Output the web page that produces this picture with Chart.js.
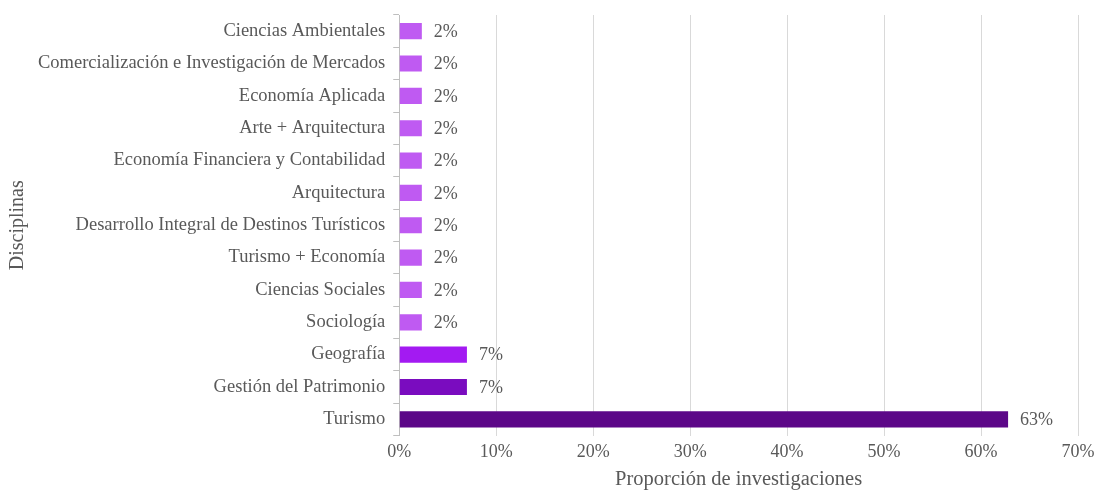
<!DOCTYPE html>
<html>
<head>
<meta charset="utf-8">
<script src="https://cdn.jsdelivr.net/npm/chart.js@4.4.1/dist/chart.umd.min.js"></script>
<style>
	html, body { margin: 0; padding: 0; background: #fff; }
	#wrap { width: 1098px; height: 490px; }
</style>
</head>
<body>
<div id="wrap"><canvas id="chart"></canvas></div>
<script>
(function () {
	'use strict';

	// disciplinas (de arriba hacia abajo)
	var disciplinas = [
		'Ciencias Ambientales',
		'Comercialización e Investigación de Mercados',
		'Economía Aplicada',
		'Arte + Arquitectura',
		'Economía Financiera y Contabilidad',
		'Arquitectura',
		'Desarrollo Integral de Destinos Turísticos',
		'Turismo + Economía',
		'Ciencias Sociales',
		'Sociología',
		'Geografía',
		'Gestión del Patrimonio',
		'Turismo'
	];
	// proporción de investigaciones (%)
	var proporcion = [2.33, 2.33, 2.33, 2.33, 2.33, 2.33, 2.33, 2.33, 2.33, 2.33, 6.98, 6.98, 62.79];
	var etiquetas = ['2%', '2%', '2%', '2%', '2%', '2%', '2%', '2%', '2%', '2%', '7%', '7%', '63%'];
	var colores = ['#bf5af2', '#bf5af2', '#bf5af2', '#bf5af2', '#bf5af2', '#bf5af2', '#bf5af2',
		'#bf5af2', '#bf5af2', '#bf5af2', '#a31af2', '#7a0cbf', '#5c0788'];
	var xTicks = [0, 10, 20, 30, 40, 50, 60, 70];

	var font = '"Liberation Serif", "Times New Roman", serif';
	var gris = '#595959';

	// etiquetas de valor al final de cada barra
	var valueLabels = {
		id: 'valueLabels',
		afterDatasetsDraw: function (chart) {
			var ctx = chart.ctx;
			var meta = chart.getDatasetMeta(0);
			ctx.save();
			ctx.font = '18px ' + font;
			ctx.fillStyle = gris;
			ctx.textAlign = 'left';
			ctx.textBaseline = 'middle';
			meta.data.forEach(function (bar, i) {
				ctx.fillText(etiquetas[i], bar.x + 12, bar.y + 1);
			});
			ctx.restore();
		}
	};

	new Chart(document.getElementById('chart'), {
		type: 'bar',
		data: {
			labels: disciplinas,
			datasets: [{
				data: proporcion,
				backgroundColor: colores,
				borderWidth: 0,
				barPercentage: 0.5,
				categoryPercentage: 1
			}]
		},
		plugins: [valueLabels],
		options: {
			indexAxis: 'y',
			responsive: true,
			maintainAspectRatio: false,
			animation: false,
			layout: { padding: { top: 15, right: 20, bottom: 0, left: 0 } },
			plugins: {
				legend: { display: false },
				tooltip: { enabled: false }
			},
			scales: {
				x: {
					min: 0,
					max: 70,
					afterBuildTicks: function (axis) {
						axis.ticks = xTicks.map(function (v) { return { value: v }; });
					},
					afterFit: function (axis) {
						axis.paddingLeft = 0;
						axis.paddingRight = 0;
					},
					border: { display: false },
					grid: { color: '#d9d9d9', lineWidth: 1, drawTicks: false },
					ticks: {
						color: gris,
						padding: 8,
						font: { family: font, size: 18, lineHeight: 1 },
						callback: function (v) { return v + '%'; }
					},
					title: {
						display: true,
						text: 'Proporción de investigaciones',
						color: gris,
						font: { family: font, size: 20.5, lineHeight: 1 },
						padding: { top: 0, bottom: 0 }
					}
				},
				y: {
					afterFit: function (axis) {
						axis.paddingTop = 0;
						axis.paddingBottom = 0;
					},
					border: { display: true, color: '#bfbfbf', width: 1 },
					grid: { drawOnChartArea: false, drawTicks: true, tickLength: 6, color: '#bfbfbf' },
					ticks: {
						color: gris,
						padding: 8,
						autoSkip: false,
						font: { family: font, size: 18.5 }
					},
					title: {
						display: true,
						text: 'Disciplinas',
						color: gris,
						font: { family: font, size: 20 },
						padding: { top: 6, bottom: 0 }
					}
				}
			}
		}
	});
})();
</script>
</body>
</html>
